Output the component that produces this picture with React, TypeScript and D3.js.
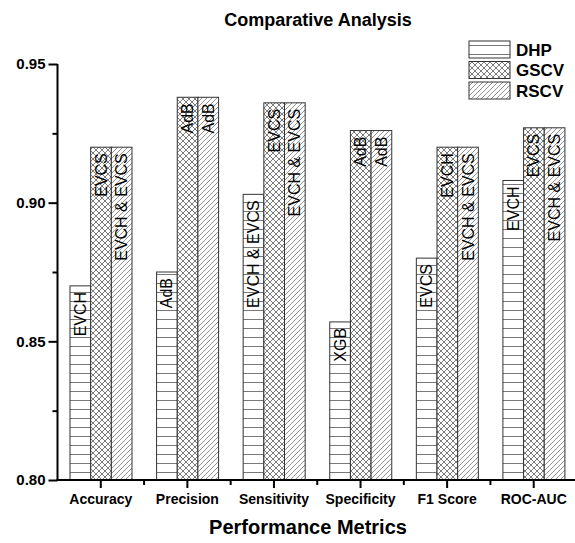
import React, { useEffect, useRef } from 'react';
import * as d3 from 'd3';

const metrics = ['Accuracy', 'Precision', 'Sensitivity', 'Specificity', 'F1 Score', 'ROC-AUC'];
const series = ['DHP', 'GSCV', 'RSCV'];
const dhp = [0.87, 0.875, 0.903, 0.857, 0.88, 0.908];
const gscv = [0.92, 0.938, 0.936, 0.926, 0.92, 0.927];
const rscv = [0.92, 0.938, 0.936, 0.926, 0.92, 0.927];
const dhpLabels = ['EVCH', 'AdB', 'EVCH & EVCS', 'XGB', 'EVCS', 'EVCH'];
const gscvLabels = ['EVCS', 'AdB', 'EVCS', 'AdB', 'EVCH', 'EVCS'];
const rscvLabels = ['EVCH & EVCS', 'AdB', 'EVCH & EVCS', 'AdB', 'EVCH & EVCS', 'EVCH & EVCS'];
const yTicks = [0.8, 0.85, 0.9, 0.95];
const yMinor = [0.825, 0.875, 0.925];

const FONT = '"Liberation Sans", Arial, sans-serif';

export default function App() {
  const ref = useRef<SVGSVGElement>(null);

  useEffect(() => {
    const svg = d3.select(ref.current);
    svg.selectAll('*').remove();
    const width = 575;
    const height = 543;
    const left = 57.5, right = 577, top = 64, bottom = 480;

    const values = [dhp, gscv, rscv];
    const labels = [dhpLabels, gscvLabels, rscvLabels];
    const fills = ['url(#hl)', 'url(#cross)', 'url(#diag)'];

    const defs = svg.append('defs');
    const hl = defs.append('pattern').attr('id', 'hl').attr('patternUnits', 'userSpaceOnUse')
      .attr('width', 8).attr('height', 9);
    hl.append('rect').attr('width', 8).attr('height', 9).attr('fill', '#fff');
    hl.append('line').attr('x1', 0).attr('x2', 8).attr('y1', 4.5).attr('y2', 4.5)
      .attr('stroke', '#555').attr('stroke-width', 0.8);
    const cr = defs.append('pattern').attr('id', 'cross').attr('patternUnits', 'userSpaceOnUse')
      .attr('width', 6).attr('height', 6);
    cr.append('rect').attr('width', 6).attr('height', 6).attr('fill', '#fff');
    cr.append('path').attr('d', 'M0,0L6,6M6,0L0,6').attr('stroke', '#444').attr('stroke-width', 0.7);
    const dg = defs.append('pattern').attr('id', 'diag').attr('patternUnits', 'userSpaceOnUse')
      .attr('width', 5).attr('height', 5);
    dg.append('rect').attr('width', 5).attr('height', 5).attr('fill', '#fff');
    dg.append('path').attr('d', 'M-1,1L1,-1M0,5L5,0M4,6L6,4').attr('stroke', '#666').attr('stroke-width', 0.7);

    svg.append('rect').attr('width', width).attr('height', height).attr('fill', '#fff');

    const x0 = d3.scaleBand().domain(metrics).range([left, right]).padding(0);
    const x1 = d3.scaleBand().domain(series).range([12.5, 74.5]).padding(0);
    const y = d3.scaleLinear().domain([0.8, 0.95]).range([bottom, top]);

    // bars
    series.forEach((s, si) => {
      const g = svg.append('g');
      g.selectAll('rect').data(metrics).join('rect')
        .attr('x', d => (x0(d) as number) + (x1(s) as number))
        .attr('y', (d, i) => y(values[si][i]))
        .attr('width', x1.bandwidth())
        .attr('height', (d, i) => bottom - y(values[si][i]))
        .attr('fill', fills[si])
        .attr('stroke', '#333').attr('stroke-width', 1);
      g.selectAll('text').data(metrics).join('text')
        .attr('transform', (d, i) => {
          const cx = (x0(d) as number) + (x1(s) as number) + x1.bandwidth() / 2;
          const ty = y(values[si][i]) + 6;
          return `translate(${cx},${ty}) rotate(-90)`;
        })
        .attr('text-anchor', 'end')
        .attr('dominant-baseline', 'central')
        .style('font-family', FONT)
        .style('font-size', '16px')
        .attr('fill', '#000')
        .text((d, i) => labels[si][i]);
    });

    // y axis
    const yAxis = svg.append('g').attr('transform', `translate(${left},0)`)
      .call(d3.axisLeft(y).tickValues(yTicks).tickSize(9).tickPadding(3).tickFormat(d3.format('.2f')));
    yAxis.select('.domain').attr('stroke', '#000').attr('stroke-width', 2).attr('d', `M0,${top}V${bottom}`);
    yAxis.selectAll('.tick line').attr('stroke-width', 2);
    yAxis.selectAll('text').style('font-family', FONT).style('font-size', '15px')
      .style('font-weight', 'bold').attr('fill', '#000');
    svg.append('g').attr('transform', `translate(${left},0)`)
      .call(d3.axisLeft(y).tickValues(yMinor).tickSize(5).tickFormat(() => ''))
      .call(g => g.select('.domain').remove())
      .selectAll('.tick line').attr('stroke-width', 2);

    // x axis
    const xAxis = svg.append('g').attr('transform', `translate(0,${bottom})`)
      .call(d3.axisBottom(x0).tickSize(8).tickPadding(6));
    xAxis.select('.domain').attr('stroke', '#000').attr('stroke-width', 2).attr('d', `M${left - 1},0H${right}`);
    xAxis.selectAll('.tick line').attr('stroke-width', 2);
    xAxis.selectAll('text').style('font-family', FONT).style('font-size', '14px')
      .style('font-weight', 'bold').attr('fill', '#000');
    const minorX = metrics.slice(1).map(m => x0(m) as number);
    svg.append('g').selectAll('line').data(minorX).join('line')
      .attr('x1', d => d).attr('x2', d => d).attr('y1', bottom).attr('y2', bottom + 5)
      .attr('stroke', '#000').attr('stroke-width', 2);

    // titles
    svg.append('text').attr('x', 318).attr('y', 20).attr('text-anchor', 'middle')
      .attr('dominant-baseline', 'central')
      .style('font-family', FONT).style('font-size', '18px').style('font-weight', 'bold')
      .text('Comparative Analysis');
    svg.append('text').attr('x', 308).attr('y', 527).attr('text-anchor', 'middle')
      .attr('dominant-baseline', 'central')
      .style('font-family', FONT).style('font-size', '20px').style('font-weight', 'bold')
      .text('Performance Metrics');

    // legend
    const lg = svg.append('g').attr('transform', 'translate(469,41)');
    series.forEach((s, i) => {
      lg.append('rect').attr('x', 0).attr('y', i * 20.5).attr('width', 41).attr('height', 17)
        .attr('fill', fills[i]).attr('stroke', '#333').attr('stroke-width', 1);
      lg.append('text').attr('x', 47).attr('y', i * 20.5 + 9).attr('dominant-baseline', 'central')
        .style('font-family', FONT).style('font-size', '17px').style('font-weight', 'bold')
        .text(s);
    });
  }, []);

  return (
    <svg ref={ref} width={575} height={543} style={{ position: 'absolute', left: 0, top: 0 }} />
  );
}
